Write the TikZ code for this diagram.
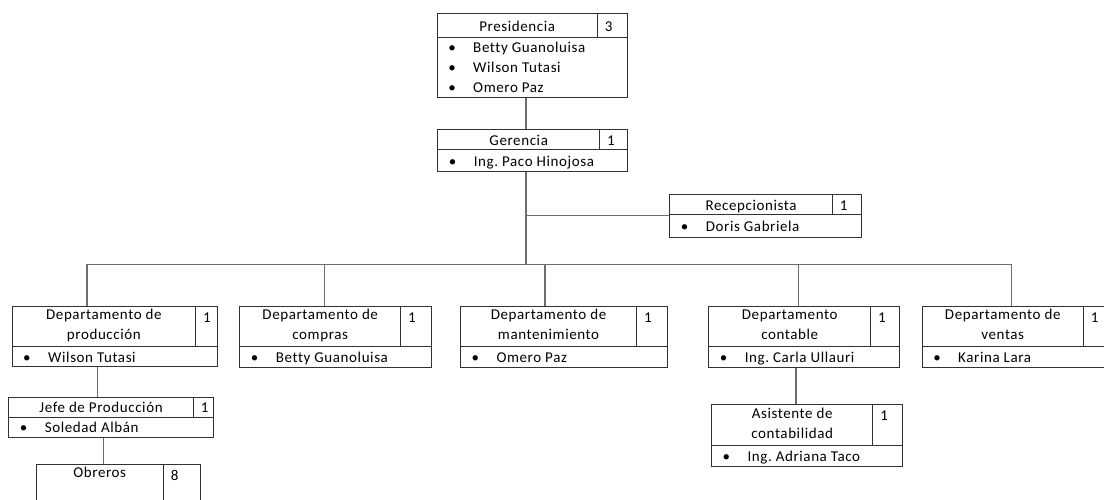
\documentclass[tikz,border=0pt]{standalone}
\usepackage{fontspec}
\setmainfont{Carlito}[LetterSpace=4,Ligatures={NoCommon}]
\usepackage{tikz}
\usetikzlibrary{positioning}
\usetikzlibrary{calc}
\definecolor{boxline}{RGB}{50,50,50}
\definecolor{linkline}{RGB}{110,110,110}
\newcommand{\pbullet}{\makebox[25pt][l]{\textbullet}}
\newcommand{\tstrut}{\rule[-4.5pt]{0pt}{20pt}}

\begin{document}
\begin{tikzpicture}[x=1pt,y=-1pt]
	\useasboundingbox (0,0) rectangle (1104,499);
	\clip (0,0) rectangle (1104,499);

	\begin{scope}[every node/.style={draw=boxline,line width=1.1pt,inner sep=0pt,anchor=north west,
	              font=\fontsize{15pt}{20pt}\selectfont\frenchspacing,align=center,
	              execute at begin node={\spaceskip=0pt\relax\xspaceskip=0pt\relax\tstrut},
	              execute at end node=\tstrut},
	              lst/.style={align=left,inner xsep=11pt,text width=#1-22pt,minimum width=#1},
	              cnt/.style={align=left,inner xsep=7.5pt,text width=#1-15pt,minimum width=#1}]
	    % presidencia
	    \node (presT) [minimum width=160,minimum height=23.4] at (436.7,13.3) {Presidencia};
	    \node (presN) [cnt=30,minimum height=23.4] at (596.7,13.3) {3};
	    \node (presL) [lst=190,minimum height=59.3] at (436.7,36.7)
	        {\pbullet Betty Guanoluisa\\\pbullet Wilson Tutasi\\\pbullet Omero Paz};
	    % gerencia
	    \node (gerT) [minimum width=161.7,minimum height=20] at (437.3,129.3) {Gerencia};
	    \node (gerN) [cnt=28,minimum height=20] at (599,129.3) {1};
	    \node (gerL) [lst=189.7,minimum height=21.4] at (437.3,149.3) {\pbullet Ing. Paco Hinojosa};
	    % recepcion
	    \node (recT) [minimum width=162.4,minimum height=20] at (669.3,194) {Recepcionista};
	    \node (recN) [cnt=29.3,minimum height=20] at (831.7,194) {1};
	    \node (recL) [lst=191.7,minimum height=22.7] at (669.3,214) {\pbullet Doris Gabriela};
	    % departamentos
	    \node (prodT) [minimum width=183.3,minimum height=40] at (11.7,306) {Departamento de\\producción};
	    \node (prodN) [cnt=22.3,minimum height=40] at (195,306) {1\\};
	    \node (prodL) [lst=205.6,minimum height=20] at (11.7,346) {\pbullet Wilson Tutasi};
	    \node (comT) [minimum width=160.7,minimum height=40] at (239.3,306) {Departamento de\\compras};
	    \node (comN) [cnt=30.7,minimum height=40] at (400,306) {1\\};
	    \node (comL) [lst=191.4,minimum height=21.3] at (239.3,346) {\pbullet Betty Guanoluisa};
	    \node (manT) [minimum width=176,minimum height=40] at (460,306) {Departamento de\\mantenimiento};
	    \node (manN) [cnt=31.3,minimum height=40] at (636,306) {1\\};
	    \node (manL) [lst=207.3,minimum height=21.3] at (460,346) {\pbullet Omero Paz};
	    \node (conT) [minimum width=161.7,minimum height=40] at (708.3,306) {Departamento\\contable};
	    \node (conN) [cnt=29.3,minimum height=40] at (870,306) {1\\};
	    \node (conL) [lst=191,minimum height=21.3] at (708.3,346) {\pbullet Ing. Carla Ullauri};
	    \node (venT) [minimum width=161,minimum height=40] at (921.7,306) {Departamento de\\ventas};
	    \node (venN) [cnt=29.3,minimum height=40] at (1082.7,306) {1\\};
	    \node (venL) [lst=190.3,minimum height=21.3] at (921.7,346) {\pbullet Karina Lara};
	    % segundo nivel
	    \node (jefT) [minimum width=184.4,minimum height=20] at (8.3,396.7) {Jefe de Producción};
	    \node (jefN) [cnt=20.6,minimum height=20] at (192.7,396.7) {1};
	    \node (jefL) [lst=205,minimum height=20] at (8.3,416.7) {\pbullet Soledad Albán};
	    \node (asiT) [minimum width=161.3,minimum height=40.7] at (711,404.3) {Asistente de\\contabilidad};
	    \node (asiN) [cnt=29.7,minimum height=40.7] at (872.3,404.3) {1\\};
	    \node (asiL) [lst=191,minimum height=20.7] at (711,445) {\pbullet Ing. Adriana Taco};
	    \node (obrT) [minimum width=127,minimum height=40] at (35.7,464) {Obreros\\};
	    \node (obrN) [cnt=37.3,minimum height=40] at (162.7,464) {8\\};
	\end{scope}

	\begin{scope}[every path/.style={draw=linkline,line width=1.1pt}]
	    \coordinate (trunk) at (526,264.3);
	    \coordinate (bx1) at (87,264.3);
	    \coordinate (bx2) at (324.3,264.3);
	    \coordinate (bx3) at (545,264.3);
	    \coordinate (bx4) at (798.3,264.3);
	    \coordinate (bx5) at (1011.7,264.3);
	    \coordinate (jx) at (97.3,0);
	    \coordinate (ox) at (103.3,0);
	    \coordinate (ax) at (796,0);
	    \path (presL.south -| trunk) -- (gerT.north -| trunk);
	    \path (gerL.south -| trunk) -- (trunk);
	    \path (recT.south west) -- (recT.south west -| trunk);
	    \path (bx1) -- (bx5);
	    \foreach \d/\n in {bx1/prodT,bx2/comT,bx3/manT,bx4/conT,bx5/venT}
	        \path (\d) -- (\d |- \n.north);
	    \path (prodL.south -| jx) -- (jefT.north -| jx);
	    \path (jefL.south -| ox) -- (obrT.north -| ox);
	    \path (conL.south -| ax) -- (asiT.north -| ax);
	\end{scope}
\end{tikzpicture}
\end{document}
